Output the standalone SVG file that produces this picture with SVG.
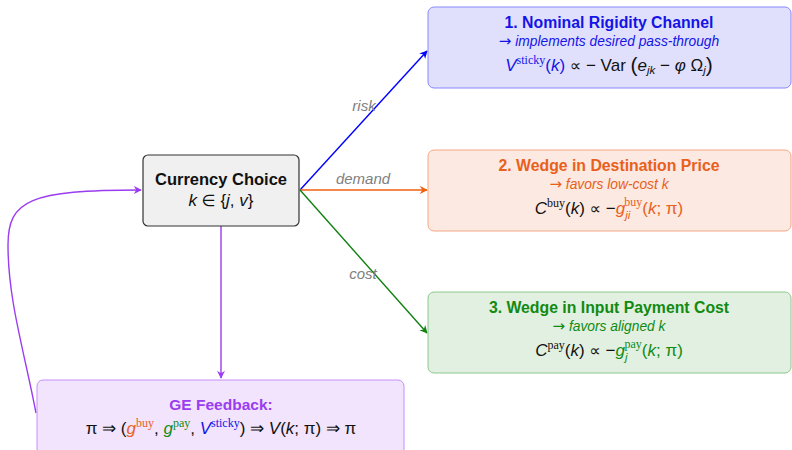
<svg xmlns="http://www.w3.org/2000/svg" width="792" height="450" viewBox="0 0 792 450">
<style>
text{font-family:"Liberation Sans",Arial,sans-serif;}
.t{font-weight:bold;font-size:15.8px;text-anchor:middle;}
.s{font-style:italic;font-size:13.8px;text-anchor:middle;}
.ar{font-family:"DejaVu Sans",sans-serif;font-style:normal;font-size:15px;}
.pp{font-family:"DejaVu Sans",sans-serif;font-size:16px;}
.f{font-size:17px;text-anchor:middle;fill:#111;}
.i{font-style:italic;}
.r{font-family:"Liberation Serif","Times New Roman",serif;font-size:12px;}
.sb{font-style:italic;font-size:11.5px;}
.lbl{font-style:italic;font-size:15px;fill:#808080;text-anchor:middle;}
.blue{fill:#1414e6;}
.org{fill:#e8601c;}
.grn{fill:#128a12;}
.pur{fill:#9a3cf0;}
</style>
<defs>
<marker id="ab" viewBox="0 0 10 10" refX="9" refY="5" markerWidth="8" markerHeight="8" orient="auto" markerUnits="userSpaceOnUse"><path d="M0,0 L10,5 L0,10 L3,5 z" fill="#0000ff"/></marker>
<marker id="ao" viewBox="0 0 10 10" refX="9" refY="5" markerWidth="8" markerHeight="8" orient="auto" markerUnits="userSpaceOnUse"><path d="M0,0 L10,5 L0,10 L3,5 z" fill="#f06010"/></marker>
<marker id="ag" viewBox="0 0 10 10" refX="9" refY="5" markerWidth="8" markerHeight="8" orient="auto" markerUnits="userSpaceOnUse"><path d="M0,0 L10,5 L0,10 L3,5 z" fill="#108010"/></marker>
<marker id="ap" viewBox="0 0 10 10" refX="9" refY="5" markerWidth="8" markerHeight="8" orient="auto" markerUnits="userSpaceOnUse"><path d="M0,0 L10,5 L0,10 L3,5 z" fill="#9a3cf0"/></marker>
</defs>

<g id="connectors" fill="none" stroke-width="1.4">
<line x1="300" y1="190" x2="427" y2="51" stroke="#0000ff" marker-end="url(#ab)"/>
<line x1="300" y1="190" x2="427" y2="190" stroke="#f06010" marker-end="url(#ao)"/>
<line x1="300" y1="190" x2="427" y2="333" stroke="#108010" marker-end="url(#ag)"/>
<line x1="221" y1="226" x2="221" y2="378" stroke="#9a3cf0" marker-end="url(#ap)"/>
<path d="M36,413 C24,350 8,300 8,245 C8,200 30,190 141,190" stroke="#9a3cf0" marker-end="url(#ap)"/>
<text class="lbl" x="364" y="111">risk</text>
<text class="lbl" x="363" y="184">demand</text>
<text class="lbl" x="363" y="279">cost</text>
</g>

<g id="currency">
<rect x="143" y="155" width="156" height="71" rx="5" fill="#f0f0f0" stroke="#333" stroke-width="1.2"/>
<text x="221" y="185" style="font-weight:bold;font-size:16.5px;text-anchor:middle;fill:#111">Currency Choice</text>
<text x="221" y="206" class="f"><tspan class="i">k</tspan>&#160;<tspan class="pp">∈</tspan>&#160;{<tspan class="i">j</tspan>,&#160;<tspan class="i">v</tspan>}</text>
</g>

<g id="nominal">
<rect x="428" y="7" width="363" height="81" rx="6" fill="#e0e0fd" stroke="#8888ff" stroke-width="1"/>
<text x="609" y="28" class="t blue">1. Nominal Rigidity Channel</text>
<text x="609" y="46" class="s blue"><tspan class="ar">→</tspan> implements desired pass-through</text>
<text x="609" y="71" class="f"><tspan class="i blue">V</tspan><tspan class="r blue" dy="-7">sticky</tspan><tspan class="blue" dy="7">(</tspan><tspan class="i blue">k</tspan><tspan class="blue">)</tspan>&#160;<tspan class="pp">∝</tspan>&#160;−&#160;Var&#160;<tspan font-size="21" dy="1">(</tspan><tspan class="i" dy="-1">e</tspan><tspan class="sb" dy="3">jk</tspan><tspan dy="-3">&#160;−&#160;</tspan><tspan class="i">φ</tspan>&#160;Ω<tspan class="sb" dy="3">j</tspan><tspan font-size="21" dy="-2">)</tspan></text>
</g>

<g id="destination">
<rect x="428" y="150" width="363" height="81" rx="6" fill="#fce9e1" stroke="#f3a884" stroke-width="1"/>
<text x="609" y="171" class="t org">2. Wedge in Destination Price</text>
<text x="609" y="189" class="s org"><tspan class="ar">→</tspan> favors low-cost k</text>
<text x="609" y="214" class="f"><tspan class="i">C</tspan><tspan class="r" dy="-7">buy</tspan><tspan dy="7">(</tspan><tspan class="i">k</tspan>)&#160;<tspan class="pp">∝</tspan>&#160;−<tspan class="i org">g</tspan><tspan class="sb org" dy="5">ji</tspan><tspan class="r org" dx="-6" dy="-13">buy</tspan><tspan class="org" dy="8">(</tspan><tspan class="i org">k</tspan><tspan class="org">;&#160;π)</tspan></text>
</g>

<g id="payment">
<rect x="428" y="292" width="363" height="81" rx="6" fill="#e1f0e1" stroke="#8cc88c" stroke-width="1"/>
<text x="609" y="313" class="t grn">3. Wedge in Input Payment Cost</text>
<text x="609" y="331" class="s grn"><tspan class="ar">→</tspan> favors aligned k</text>
<text x="609" y="356" class="f"><tspan class="i">C</tspan><tspan class="r" dy="-7">pay</tspan><tspan dy="7">(</tspan><tspan class="i">k</tspan>)&#160;<tspan class="pp">∝</tspan>&#160;−<tspan class="i grn">g</tspan><tspan class="sb grn" dy="5">j</tspan><tspan class="r grn" dx="-3" dy="-13">pay</tspan><tspan class="grn" dy="8">(</tspan><tspan class="i grn">k</tspan><tspan class="grn">;&#160;π)</tspan></text>
</g>

<g id="feedback">
<rect x="37" y="380" width="367" height="75" rx="6" fill="#f1e4fc" stroke="#c88ef8" stroke-width="1"/>
<text x="221" y="410" class="t pur" style="font-size:15.5px">GE Feedback:</text>
<text x="221" y="434" class="f">π&#160;⇒&#160;(<tspan class="i org">g</tspan><tspan class="r org" dy="-7">buy</tspan><tspan dy="7">,&#160;</tspan><tspan class="i grn">g</tspan><tspan class="r grn" dy="-7">pay</tspan><tspan dy="7">,&#160;</tspan><tspan class="i blue">V</tspan><tspan class="r blue" dy="-7">sticky</tspan><tspan dy="7">)&#160;⇒&#160;</tspan><tspan class="i">V</tspan>(<tspan class="i">k</tspan>;&#160;π)&#160;⇒&#160;π</text>
</g>
</svg>
